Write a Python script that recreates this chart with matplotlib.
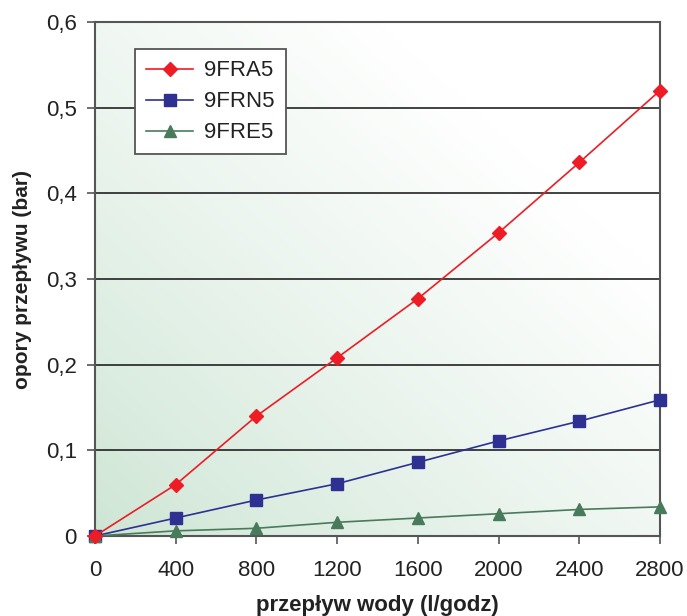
import numpy as np
import matplotlib
matplotlib.use("Agg")
import matplotlib.pyplot as plt
from matplotlib.colors import to_rgb

plt.rcParams['font.family'] = ['Liberation Sans', 'DejaVu Sans']

flow = [0, 400, 800, 1200, 1600, 2000, 2400, 2800]
fra5 = [0, 0.060, 0.140, 0.208, 0.277, 0.354, 0.436, 0.520]
frn5 = [0, 0.021, 0.042, 0.061, 0.086, 0.111, 0.134, 0.159]
fre5 = [0, 0.006, 0.009, 0.016, 0.021, 0.026, 0.031, 0.034]
series_names = ['9FRA5', '9FRN5', '9FRE5']
x_ticks = [0, 400, 800, 1200, 1600, 2000, 2400, 2800]
y_ticks = [0, 0.1, 0.2, 0.3, 0.4, 0.5, 0.6]

fig = plt.figure(figsize=(6.87, 6.16), dpi=100)
ax = fig.add_axes([95/687, 80/616, 565/687, 514/616])

# diagonal green-to-white background
n = 300
u, v = np.meshgrid(np.linspace(0, 1, n), np.linspace(0, 1, n))
t = np.clip((u + v) / 1.5, 0, 1) ** 0.85
c0 = np.array(to_rgb('#cde5d4'))
c1 = np.array([1.0, 1.0, 1.0])
img = c0[None, None, :] * (1 - t[..., None]) + c1[None, None, :] * t[..., None]
ax.imshow(img, origin='lower', extent=[0, 1, 0, 1], transform=ax.transAxes,
          aspect='auto', zorder=0, interpolation='bilinear')

ax.set_xlim(0, 2800)
ax.set_ylim(0, 0.6)
for yv in y_ticks[1:-1]:
    ax.axhline(yv, color='#222222', lw=1.2, zorder=1)

ax.plot(flow, fra5, color='#ee1c24', lw=1.2, marker='D', ms=7,
        label=series_names[0], zorder=4, clip_on=False)
ax.plot(flow, frn5, color='#2e3192', lw=1.2, marker='s', ms=9,
        label=series_names[1], zorder=3, clip_on=False)
ax.plot(flow, fre5, color='#4a7a5c', lw=1.2, marker='^', ms=9,
        label=series_names[2], zorder=3, clip_on=False)

ax.set_xticks(x_ticks)
ax.set_xticklabels([str(v) for v in x_ticks])
ax.set_yticks(y_ticks)
ax.set_yticklabels(['0' if v == 0 else f'{v:.1f}'.replace('.', ',') for v in y_ticks])
ax.tick_params(axis='both', direction='out', length=6, width=1.2, color='#555555',
               labelsize=16, labelcolor='#222222')
ax.tick_params(axis='x', pad=11)
ax.tick_params(axis='y', pad=7)

for s in ax.spines.values():
    s.set_color('#555555')
    s.set_linewidth(1.5)

ax.set_xlabel('przepływ wody (l/godz)', fontsize=16, fontweight='bold',
              color='#222222', labelpad=10)
ax.set_ylabel('opory przepływu (bar)', fontsize=15, fontweight='bold',
              color='#222222', labelpad=10)

leg = ax.legend(loc='upper left', bbox_to_anchor=(0.071, 0.947), borderaxespad=0,
                fontsize=16, frameon=True, fancybox=False, edgecolor='#555555',
                facecolor='white', framealpha=1, handlelength=2.1,
                labelspacing=0.45, borderpad=0.5, handletextpad=0.5)
leg.get_frame().set_linewidth(1.3)
for txt in leg.get_texts():
    txt.set_color('#222222')

fig.savefig('out.png', dpi=100)
